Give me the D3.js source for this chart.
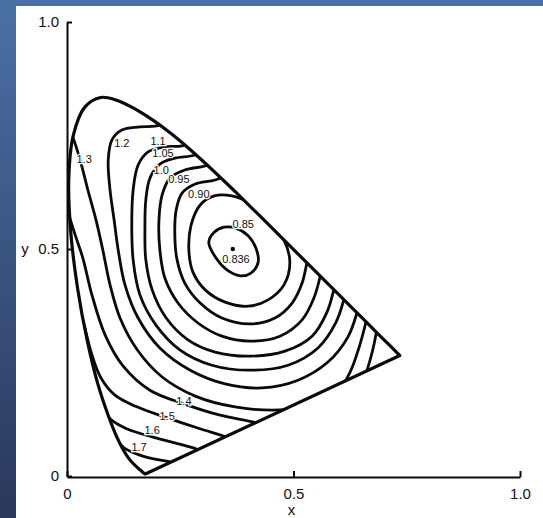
<!DOCTYPE html>
<html lang="en">
	<head>
		<meta charset="utf-8">
		<title>D3: chromaticity contours</title>
		<script type="text/javascript" src="https://cdn.jsdelivr.net/npm/d3@7"></script>
		<style type="text/css">
			html, body{
				margin: 0;
				padding: 0;
				background-color: #2b395b;
			}
			body{
				width: 543px;
				height: 518px;
				overflow: hidden;
			}
			text{
				font-family: "Liberation Sans", Arial, sans-serif;
			}
		</style>
	</head>
	<body>
		<div id="chart"></div>
		<script type="text/javascript">

			//Spectral locus (CIE 1931), 380 nm -> 700 nm
			var locusX = [0.1741, 0.1738, 0.1733, 0.1726, 0.1714, 0.1689, 0.1644, 0.1566, 0.1440, 0.1355,
				0.1241, 0.1096, 0.0913, 0.0687, 0.0454, 0.0235, 0.0082, 0.0039, 0.0139, 0.0389,
				0.0743, 0.1142, 0.1547, 0.1929, 0.2296, 0.2658, 0.3016, 0.3373, 0.3731, 0.4087,
				0.4441, 0.4788, 0.5125, 0.5448, 0.5752, 0.6029, 0.6270, 0.6482, 0.6658, 0.6915,
				0.7079, 0.7190, 0.7260, 0.7300, 0.7334, 0.7347];
			var locusY = [0.0050, 0.0049, 0.0048, 0.0048, 0.0051, 0.0069, 0.0109, 0.0177, 0.0297, 0.0399,
				0.0578, 0.0868, 0.1327, 0.2007, 0.2950, 0.4127, 0.5384, 0.6548, 0.7502, 0.8120,
				0.8338, 0.8262, 0.8059, 0.7816, 0.7543, 0.7243, 0.6923, 0.6589, 0.6245, 0.5896,
				0.5547, 0.5202, 0.4866, 0.4544, 0.4242, 0.3965, 0.3725, 0.3514, 0.3340, 0.3083,
				0.2920, 0.2809, 0.2740, 0.2700, 0.2666, 0.2653];

			//Contour lines (x, y)
			var c085 = [[0.313,0.515],[0.325,0.537],[0.347,0.548],[0.373,0.546],[0.400,0.529],[0.417,0.502],
				[0.422,0.471],[0.406,0.447],[0.382,0.441],[0.353,0.454],[0.329,0.480]];
			var c090 = [[0.269,0.498],[0.274,0.553],[0.294,0.597],[0.325,0.617],[0.364,0.617],[0.408,0.599],
				[0.448,0.564],[0.479,0.520],[0.492,0.471],[0.479,0.421],[0.444,0.388],[0.400,0.374],
				[0.349,0.383],[0.305,0.410],[0.278,0.449]];
			var c095 = [[0.371,0.670],[0.327,0.652],[0.283,0.643],[0.254,0.623],[0.241,0.586],[0.238,0.531],
				[0.243,0.476],[0.260,0.425],[0.294,0.381],[0.342,0.348],[0.404,0.335],[0.459,0.348],
				[0.497,0.381],[0.519,0.425],[0.530,0.471],[0.539,0.509]];
			var c100 = [[0.349,0.700],[0.305,0.683],[0.260,0.674],[0.227,0.656],[0.210,0.619],[0.203,0.564],
				[0.205,0.498],[0.216,0.436],[0.245,0.381],[0.289,0.337],[0.342,0.308],[0.404,0.297],
				[0.470,0.308],[0.519,0.344],[0.545,0.392],[0.558,0.436],[0.567,0.480]];
			var c105 = [[0.327,0.729],[0.283,0.707],[0.238,0.700],[0.205,0.687],[0.183,0.656],[0.174,0.608],
				[0.172,0.542],[0.174,0.476],[0.188,0.410],[0.219,0.348],[0.267,0.300],[0.327,0.273],
				[0.404,0.264],[0.481,0.275],[0.541,0.308],[0.574,0.361],[0.589,0.410],[0.598,0.449]];
			var c110 = [[0.294,0.762],[0.260,0.729],[0.216,0.725],[0.179,0.714],[0.157,0.685],[0.146,0.630],
				[0.143,0.553],[0.146,0.476],[0.161,0.399],[0.196,0.333],[0.249,0.278],[0.320,0.244],
				[0.404,0.233],[0.488,0.244],[0.554,0.282],[0.594,0.339],[0.611,0.388],[0.620,0.427]];
			var c120 = [[0.238,0.802],[0.205,0.773],[0.161,0.769],[0.121,0.762],[0.099,0.740],[0.091,0.696],
				[0.095,0.630],[0.104,0.564],[0.113,0.498],[0.128,0.421],[0.157,0.348],[0.205,0.282],
				[0.272,0.233],[0.349,0.203],[0.430,0.194],[0.510,0.211],[0.576,0.251],[0.620,0.306],
				[0.640,0.359],[0.649,0.396]];
			var c130 = [[-0.011,0.795],[0.011,0.751],[0.029,0.696],[0.046,0.630],[0.064,0.564],[0.079,0.498],
				[0.095,0.421],[0.117,0.348],[0.155,0.278],[0.210,0.218],[0.283,0.176],[0.371,0.152],
				[0.453,0.145],[0.514,0.150],[0.563,0.163],[0.598,0.187],[0.625,0.229],[0.645,0.284],
				[0.660,0.339],[0.669,0.377]];
			var c140 = [[-0.020,0.674],[-0.002,0.597],[0.018,0.531],[0.035,0.480],[0.055,0.399],[0.084,0.311],
				[0.124,0.242],[0.183,0.189],[0.258,0.159],[0.338,0.134],[0.419,0.117],[0.481,0.097]];
			var c140b = [[0.651,0.200],[0.664,0.238],[0.675,0.278],[0.684,0.322],[0.689,0.348]];
			var c150 = [[0.038,0.333],[0.055,0.267],[0.075,0.216],[0.106,0.178],[0.150,0.154],[0.221,0.128],
				[0.294,0.104],[0.351,0.086],[0.393,0.070]];
			var c160 = [[0.073,0.163],[0.095,0.126],[0.132,0.104],[0.188,0.086],[0.238,0.073],[0.287,0.059],
				[0.320,0.044]];
			var c170 = [[0.106,0.084],[0.126,0.062],[0.161,0.046],[0.194,0.037],[0.227,0.031],[0.254,0.022]];

			var closedContours = [c085, c090];
			var openContours = [c095, c100, c105, c110, c120, c130, c140, c140b, c150, c160, c170];

			//Contour labels
			var labelText = ["1.3", "1.2", "1.1", "1.05", "1.0", "0.95", "0.90", "0.85", "0.836", "1.4", "1.5", "1.6", "1.7"];
			var labelX = [0.038, 0.121, 0.201, 0.212, 0.208, 0.247, 0.291, 0.389, 0.373, 0.258, 0.221, 0.188, 0.159];
			var labelY = [0.698, 0.733, 0.738, 0.711, 0.674, 0.654, 0.621, 0.555, 0.478, 0.165, 0.132, 0.101, 0.064];
			var minPoint = [0.366, 0.500];

			//Axis ticks
			var xTicks = [0, 0.5, 1.0];
			var xTickLabels = ["0", "0.5", "1.0"];
			var yTicks = [0, 0.5, 1.0];
			var yTickLabels = ["0", "0.5", "1.0"];

			//Width and height
			var w = 543;
			var h = 518;

			var xScale = d3.scaleLinear()
				.domain([0, 1])
				.range([67, 520]);
			var yScale = d3.scaleLinear()
				.domain([0, 1])
				.range([476, 22]);

			var svg = d3.select("#chart")
				.append("svg")
				.attr("width", w)
				.attr("height", h);

			var defs = svg.append("defs");
			var grad = defs.append("linearGradient")
				.attr("id", "bg")
				.attr("x1", 0).attr("y1", 0)
				.attr("x2", 0).attr("y2", 1);
			grad.append("stop").attr("offset", "0%").attr("stop-color", "#4b70a5");
			grad.append("stop").attr("offset", "100%").attr("stop-color", "#2a385a");

			svg.append("rect")
				.attr("width", w)
				.attr("height", h)
				.attr("fill", "url(#bg)");
			svg.append("rect")
				.attr("x", 16)
				.attr("y", 6)
				.attr("width", w - 16)
				.attr("height", h - 6)
				.attr("fill", "#ffffff");

			var locus = d3.range(locusX.length).map(function(i) {
				return [locusX[i], locusY[i]];
			});
			var locusLine = d3.line()
				.x(function(d) { return xScale(d[0]); })
				.y(function(d) { return yScale(d[1]); })
				.curve(d3.curveCatmullRom.alpha(0.5));
			//spectral curve, closed by the straight purple line
			var locusPath = locusLine(locus) + "Z";

			defs.append("clipPath")
				.attr("id", "locusClip")
				.append("path")
				.attr("d", locusPath);

			var contourLine = d3.line()
				.x(function(d) { return xScale(d[0]); })
				.y(function(d) { return yScale(d[1]); })
				.curve(d3.curveCatmullRom.alpha(0.5));
			var ringLine = d3.line()
				.x(function(d) { return xScale(d[0]); })
				.y(function(d) { return yScale(d[1]); })
				.curve(d3.curveCatmullRomClosed.alpha(0.5));

			var contours = svg.append("g")
				.attr("clip-path", "url(#locusClip)")
				.attr("fill", "none")
				.attr("stroke", "#0a0a0a")
				.attr("stroke-width", 2.8)
				.attr("stroke-linecap", "round");

			contours.selectAll("path.ring")
				.data(closedContours)
				.enter()
				.append("path")
				.attr("class", "ring")
				.attr("d", function(d) {
					return ringLine(d);
				});

			contours.selectAll("path.arc")
				.data(openContours)
				.enter()
				.append("path")
				.attr("class", "arc")
				.attr("d", function(d) {
					return contourLine(d);
				});

			svg.append("path")
				.attr("d", locusPath)
				.attr("fill", "none")
				.attr("stroke", "#0a0a0a")
				.attr("stroke-width", 3.2)
				.attr("stroke-linejoin", "round");

			svg.append("circle")
				.attr("cx", xScale(minPoint[0]))
				.attr("cy", yScale(minPoint[1]))
				.attr("r", 2.2)
				.attr("fill", "#0a0a0a");

			svg.selectAll("text.clabel")
				.data(labelText)
				.enter()
				.append("text")
				.attr("class", "clabel")
				.text(function(d) {
					return d;
				})
				.attr("x", function(d, i) {
					return xScale(labelX[i]);
				})
				.attr("y", function(d, i) {
					return yScale(labelY[i]);
				})
				.attr("dy", "0.36em")
				.attr("text-anchor", "middle")
				.attr("font-size", "11px")
				.attr("fill", "#111")
				.attr("stroke", "#ffffff")
				.attr("stroke-width", 2.5)
				.attr("paint-order", "stroke");

			//Axes
			var xAxis = d3.axisBottom(xScale)
				.tickValues(xTicks)
				.tickFormat(function(d, i) { return xTickLabels[i]; })
				.tickSize(-6)
				.tickSizeOuter(0)
				.tickPadding(11);
			var yAxis = d3.axisLeft(yScale)
				.tickValues(yTicks)
				.tickFormat(function(d, i) { return yTickLabels[i]; })
				.tickSize(-5)
				.tickSizeOuter(0)
				.tickPadding(8);

			var gx = svg.append("g")
				.attr("transform", "translate(0," + (yScale(0) + 1) + ")")
				.call(xAxis);
			var gy = svg.append("g")
				.attr("transform", "translate(" + xScale(0) + ",0)")
				.call(yAxis);

			[gx, gy].forEach(function(g) {
				g.attr("font-size", 15)
					.attr("font-family", null);
				g.selectAll("path, line")
					.attr("stroke", "#0a0a0a")
					.attr("stroke-width", 2);
				g.selectAll("text")
					.attr("fill", "#111");
			});

			svg.append("text")
				.text("x")
				.attr("x", xScale(0.5) - 2)
				.attr("y", 515)
				.attr("text-anchor", "middle")
				.attr("font-size", "15px")
				.attr("fill", "#111");
			svg.append("text")
				.text("y")
				.attr("x", 25)
				.attr("y", yScale(0.5) + 5)
				.attr("text-anchor", "middle")
				.attr("font-size", "15px")
				.attr("fill", "#111");
		</script>
	</body>
</html>
